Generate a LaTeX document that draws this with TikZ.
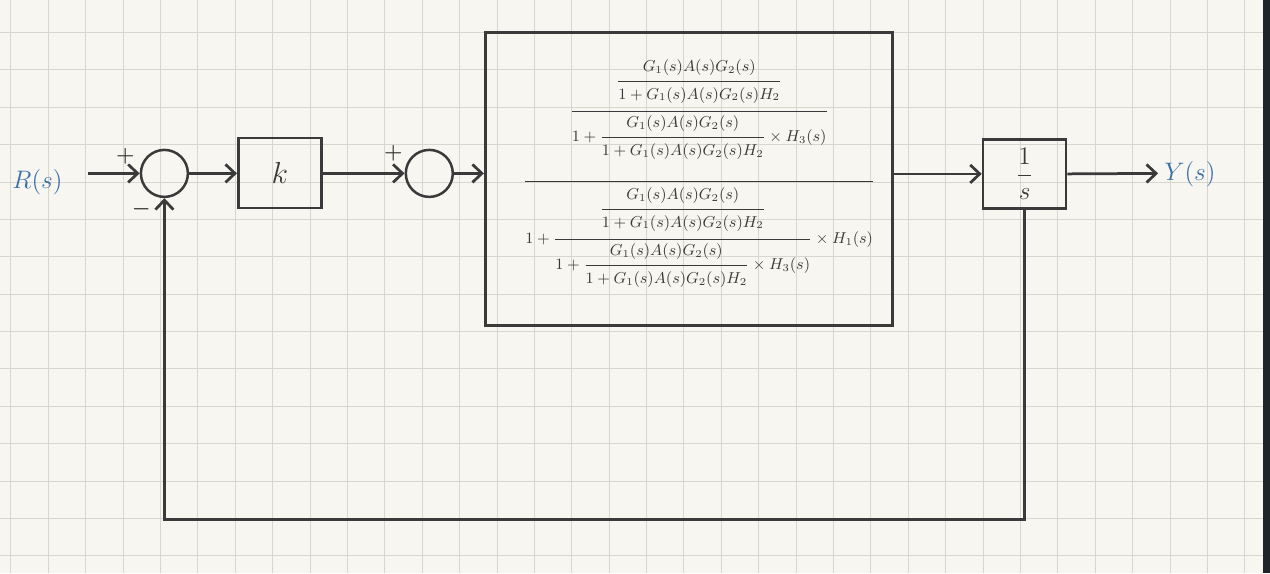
\documentclass[tikz,border=0pt]{standalone}
\usepackage{amsmath,amssymb}
\usepackage{xcolor}
\usepackage{tikz}
\usetikzlibrary{positioning, arrows.meta}
\definecolor{ink}{HTML}{3A3A3A}
\definecolor{pen}{HTML}{3C6FA8}
\definecolor{paper}{HTML}{F8F6F1}
\definecolor{rulecol}{HTML}{D9D6D0}
\definecolor{edgecol}{HTML}{1F232A}
% extra room under / over a piece of a fraction
\newcommand{\padbelow}[2]{\setbox0=\hbox{$\displaystyle #1$}\copy0\rule[-\dimexpr\dp0+#2\relax]{0pt}{0pt}}
\newcommand{\padabove}[2]{\setbox0=\hbox{$\displaystyle #1$}\copy0\rule{0pt}{\dimexpr\ht0+#2\relax}}
\newcommand{\loopfrac}{\dfrac{\padbelow{G_1(s)A(s)G_2(s)}{2pt}}{\padabove{1+G_1(s)A(s)G_2(s)H_2}{2pt}}}
\newcommand{\innerblock}{\dfrac{\padbelow{\loopfrac}{3.4pt}}{\padabove{1+\loopfrac\times H_3(s)}{1.2pt}}}

\begin{document}
\begin{tikzpicture}[x=0.2mm, y=-0.2mm,
  block/.style={draw=ink, line width=0.55mm, minimum width=16.6mm, minimum height=14mm, inner sep=0pt, font=\Large, text=ink},
  sumnode/.style={draw=ink, line width=0.5mm, circle, minimum size=9.4mm, inner sep=0pt},
  arrow/.style={-{Straight Barb[length=1.9mm, width=3.6mm]}, line width=0.55mm, color=ink},
  gridline/.style={rulecol, line width=0.18mm},
  sign/.style={font=\large\boldmath, text=ink, inner sep=0pt},
  sig/.style={font=\Large, text=pen}
]
  % paper and grid
  \fill[paper] (0,0) rectangle (1270,573);
  \foreach \i in {0,...,33} \draw[gridline] ({10.5+37.4*\i},0) -- ({10.5+37.4*\i},573);
  \foreach \j in {0,...,14} \draw[gridline] (0,{32+37.4*\j}) -- (1263,{32+37.4*\j});
  \fill[edgecol] (1263,0) rectangle (1270,573);

  \node[sig] (rlabel) at (37,182) {$R(s)$};
  \coordinate (rin) at (88,173);
  \node[sumnode] (sum1) at (164,173) {};
  \node[block, font=\LARGE] (gain) at (279.5,172.5) {$k$};
  \node[sumnode] (sum2) at (429,173) {};
  \node[draw=ink, line width=0.55mm, minimum width=81.4mm, minimum height=58.6mm] (plant) at (688.5,178.5) {};
  \node[text=ink, font=\small, anchor=base, inner sep=0pt] (tf) at (699,185)
    {$\dfrac{\padbelow{\innerblock}{11.3pt}}{\padabove{1+\innerblock\times H_1(s)}{2.3pt}}$};
  \node[block, minimum height=13.8mm] (inv) at (1024.5,173.5) {$\dfrac{1}{s}$};
  \coordinate (yout) at (1158,173);
  \node[sig] (ylabel) at (1190,174) {$Y(s)$};

  \node[sign] (plus1) at (125,156) {$+$};
  \node[sign] (minus1) at (141,209) {$-$};
  \node[sign] (plus2) at (393,153) {$+$};

  \draw[arrow] (rin) -- (sum1.west);
  \draw[arrow] (sum1.east) -- (gain.west |- sum1.east);
  \draw[arrow] (gain.east |- sum2.west) -- (sum2.west);
  \draw[arrow] (sum2.east) -- (plant.west |- sum2.east);
  \draw[arrow] (plant.east |- inv.west) -- (inv.west);
  \draw[arrow] (inv.east) -- (yout);

  \coordinate (fbturn) at (0,519);
  \draw[arrow] (inv.south) -- (inv.south |- fbturn) -| (sum1.south);
\end{tikzpicture}
\end{document}
